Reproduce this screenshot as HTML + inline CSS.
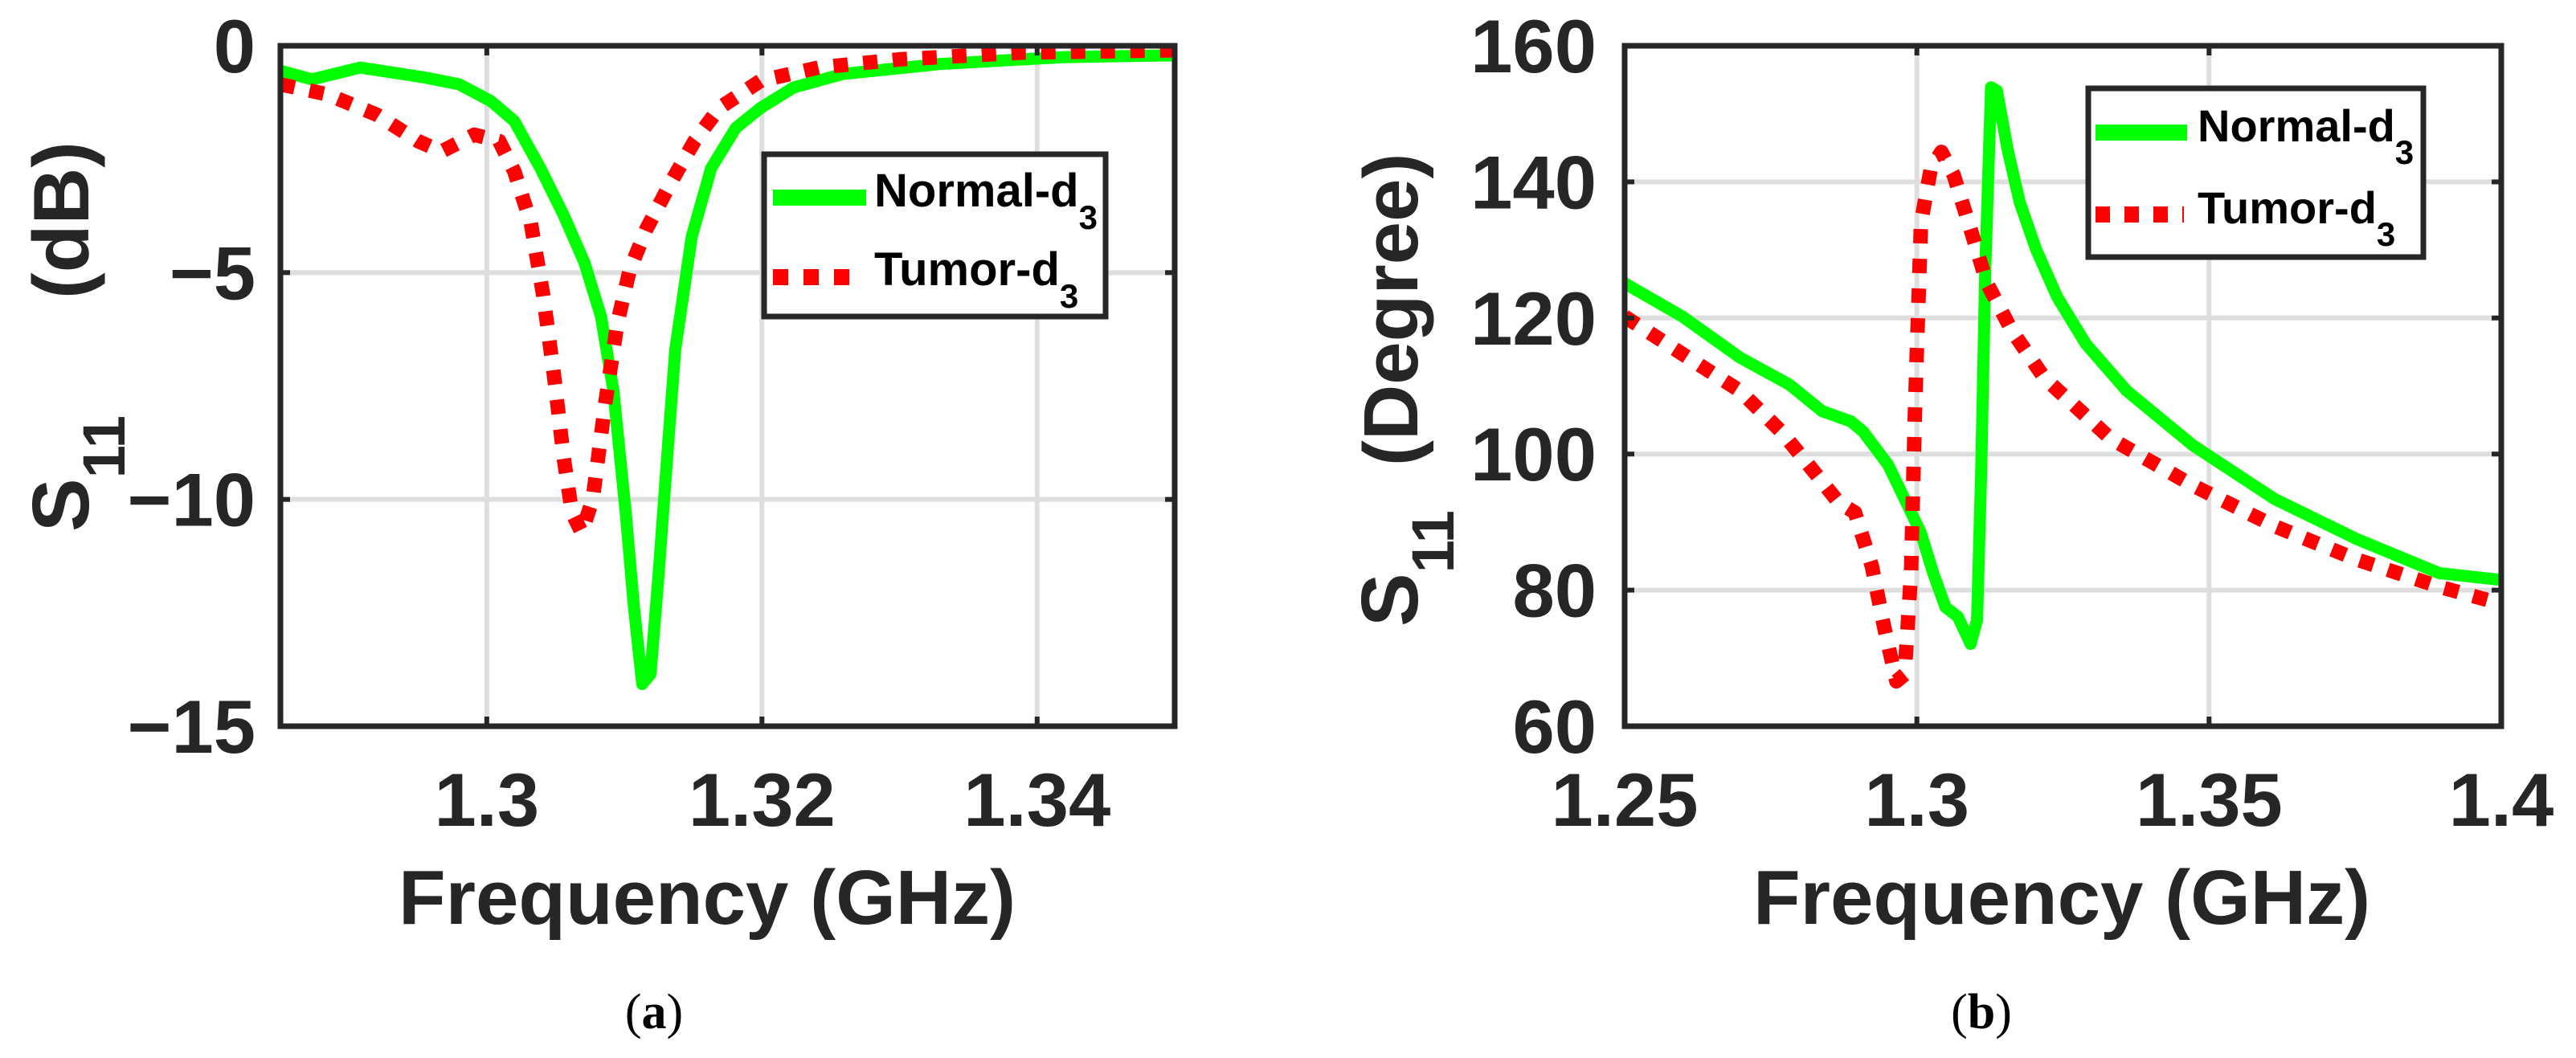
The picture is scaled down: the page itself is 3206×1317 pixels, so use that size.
<!DOCTYPE html>
<html><head><meta charset="utf-8"><style>
html,body{margin:0;padding:0;background:#fff;}
svg{display:block;font-family:"Liberation Sans",Arial,sans-serif;}
</style></head><body>
<svg id="fig" width="3206" height="1317" viewBox="0 0 3206 1317" xmlns="http://www.w3.org/2000/svg">
<defs>
<clipPath id="clipA"><rect x="349" y="57" width="1113" height="847"/></clipPath>
<clipPath id="clipB"><rect x="2022" y="57" width="1091" height="847"/></clipPath>
</defs>
<g id="panelA"></g>
<g id="panelB"></g>
</svg>
<script>
// Panel (a): S11 magnitude (dB)
const aXTicks = [1.3, 1.32, 1.34];
const aXTickLabels = ["1.3", "1.32", "1.34"];
const aYTicks = [0, -5, -10, -15];
const aYTickLabels = ["0", "\u22125", "\u221210", "\u221215"];
const aNormalX = [1.285,1.2873,1.2908,1.2955,1.298,1.3003,1.302,1.3039,1.3056,1.3071,1.3083,1.3092,1.3101,1.3107,1.3113,1.3119,1.3125,1.3131,1.3137,1.3149,1.3163,1.3181,1.3199,1.3223,1.3259,1.333,1.3419,1.35];
const aNormalY = [-0.55,-0.74,-0.48,-0.70,-0.85,-1.22,-1.66,-2.7,-3.74,-4.78,-5.97,-7.6,-10.3,-12.4,-14.07,-13.85,-11.6,-9.1,-6.7,-4.2,-2.7,-1.81,-1.37,-0.92,-0.62,-0.40,-0.25,-0.21];
const aTumorX = [1.285,1.2884,1.292,1.295,1.2967,1.2991,1.3009,1.302,1.3032,1.3041,1.3049,1.3056,1.3062,1.3069,1.3077,1.3086,1.3095,1.3104,1.3116,1.3134,1.3151,1.3169,1.3199,1.3241,1.33,1.3389,1.35];
const aTumorY = [-0.85,-1.07,-1.52,-2.1,-2.33,-1.96,-2.1,-2.77,-3.9,-5.5,-7.3,-9.1,-10.3,-10.73,-9.99,-7.9,-6.1,-4.93,-4.04,-3.0,-2.1,-1.37,-0.77,-0.48,-0.30,-0.15,-0.10];

// Panel (b): S11 phase (degree)
const bXTicks = [1.25, 1.3, 1.35, 1.4];
const bXTickLabels = ["1.25", "1.3", "1.35", "1.4"];
const bYTicks = [60, 80, 100, 120, 140, 160];
const bYTickLabels = ["60", "80", "100", "120", "140", "160"];
const bNormalX = [1.25,1.2599,1.2697,1.2782,1.2838,1.2887,1.2908,1.2951,1.2979,1.3007,1.3028,1.3049,1.307,1.3092,1.3103,1.311,1.3117,1.3127,1.3137,1.3155,1.3176,1.3204,1.324,1.3289,1.3359,1.3472,1.3612,1.3753,1.3894,1.4];
const bNormalY = [125.1,120.2,114.2,110.2,106.3,104.8,103.3,98.4,93.4,88.4,82.5,77.5,76.1,72.1,75.6,97.4,127.1,153.9,153.4,144.9,137.0,130.1,123.1,116.2,109.3,101.3,93.4,87.5,82.5,81.5];
const bTumorX = [1.25,1.2599,1.2697,1.2768,1.2824,1.2866,1.2894,1.2923,1.2944,1.2965,1.2979,1.299,1.2997,1.3007,1.3024,1.3042,1.3063,1.3092,1.312,1.3162,1.3218,1.3331,1.3472,1.3612,1.3753,1.3894,1.4];
const bTumorY = [120.2,114.7,109.3,103.3,97.4,92.9,91.4,83.5,74.6,66.6,67.6,82.5,107.3,134.0,142.0,144.4,141.0,133.0,125.1,118.2,111.2,102.3,95.4,89.4,84.5,80.5,78.0];

const NS = "http://www.w3.org/2000/svg";
function mk(tag, attrs, parent){ const e=document.createElementNS(NS,tag); for(const k in attrs) e.setAttribute(k,attrs[k]); parent.appendChild(e); return e; }

function panel(g, cfg){
  const sx = v => cfg.x0 + (v-cfg.xmin)/(cfg.xmax-cfg.xmin)*(cfg.x1-cfg.x0);
  const sy = v => cfg.y1 - (v-cfg.ymin)/(cfg.ymax-cfg.ymin)*(cfg.y1-cfg.y0);
  cfg.xt.forEach((t,i)=>{
    const l=mk('line',{x1:sx(t),x2:sx(t),y1:cfg.y0,y2:cfg.y1,stroke:'#dedede','stroke-width':6},g);
    
    
  });
  cfg.yt.forEach((t,i)=>{
    const l=mk('line',{x1:cfg.x0,x2:cfg.x1,y1:sy(t),y2:sy(t),stroke:'#dedede','stroke-width':6},g);
    
    
  });
  function series(xs, ys, stroke, w, dash, name){
    let d=''; xs.forEach((x,i)=>{ d+=(i?'L':'M')+sx(x).toFixed(1)+','+sy(ys[i]).toFixed(1); });
    const p=mk('path',{d:d,fill:'none',stroke:stroke,'stroke-width':w,'stroke-linejoin':'round','clip-path':'url(#'+cfg.clip+')'},g);
    if(dash) p.setAttribute('stroke-dasharray',dash);
    
    
  }
  series(cfg.nx, cfg.ny, '#00ff00', 15, null, 'normal-d3-line');
  series(cfg.tx, cfg.ty, '#ff0000', 18, '18 19', 'tumor-d3-line');
  const box=mk('rect',{x:cfg.x0,y:cfg.y0,width:cfg.x1-cfg.x0,height:cfg.y1-cfg.y0,fill:'none',stroke:'#262626','stroke-width':7},g);
  
  
  cfg.xt.forEach((t,i)=>{
    mk('line',{x1:sx(t),x2:sx(t),y1:cfg.y1,y2:cfg.y1-12,stroke:'#262626','stroke-width':6},g);
    mk('line',{x1:sx(t),x2:sx(t),y1:cfg.y0,y2:cfg.y0+12,stroke:'#262626','stroke-width':6},g);
    const tx=mk('text',{x:sx(t),y:1028,'text-anchor':'middle','font-size':94,'font-weight':'bold',fill:'#262626'},g);
    tx.textContent=cfg.xl[i];
    
    
  });
  cfg.yt.forEach((t,i)=>{
    mk('line',{x1:cfg.x0,x2:cfg.x0+12,y1:sy(t),y2:sy(t),stroke:'#262626','stroke-width':6},g);
    mk('line',{x1:cfg.x1,x2:cfg.x1-12,y1:sy(t),y2:sy(t),stroke:'#262626','stroke-width':6},g);
    const ty=mk('text',{x:cfg.ylx,y:sy(t)+33,'text-anchor':'end','font-size':94,'font-weight':'bold',fill:'#262626'},g);
    ty.textContent=cfg.yl[i];
    
    
  });
}

const gA=document.getElementById('panelA'), gB=document.getElementById('panelB');
panel(gA,{x0:349,x1:1462,y0:57,y1:904,xmin:1.285,xmax:1.35,ymin:-15,ymax:0,xt:aXTicks,xl:aXTickLabels,yt:aYTicks,yl:aYTickLabels,ylx:318,nx:aNormalX,ny:aNormalY,tx:aTumorX,ty:aTumorY,clip:'clipA'});
panel(gB,{x0:2022,x1:3113,y0:57,y1:904,xmin:1.25,xmax:1.4,ymin:60,ymax:160,xt:bXTicks,xl:bXTickLabels,yt:bYTicks,yl:bYTickLabels,ylx:1987,nx:bNormalX,ny:bNormalY,tx:bTumorX,ty:bTumorY,clip:'clipB'});
</script>

<svg style="position:absolute;left:0;top:0" width="3206" height="1317" viewBox="0 0 3206 1317">
<g font-family="Liberation Sans, Arial, sans-serif" font-weight="bold" fill="#262626">
<text x="880" y="1150" text-anchor="middle" font-size="96">Frequency (GHz)</text>
<text transform="translate(110,662) rotate(-90)" text-anchor="start" font-size="100">S<tspan font-size="74" dy="45">11</tspan></text>
<text transform="translate(110,372) rotate(-90)" text-anchor="start" font-size="98">(dB)</text>
<text x="2566" y="1150" text-anchor="middle" font-size="96">Frequency (GHz)</text>
<text transform="translate(1764,780) rotate(-90)" text-anchor="start" font-size="100">S<tspan font-size="74" dy="45">11</tspan></text>
<text transform="translate(1764,580) rotate(-90)" text-anchor="start" font-size="96">(Degree)</text>
</g>
<g>
<rect x="951" y="192" width="425" height="202" fill="#fff" stroke="#262626" stroke-width="7"/>
<line x1="962" x2="1078" y1="246" y2="246" stroke="#00ff00" stroke-width="20"/>
<line x1="962" x2="1070" y1="345" y2="345" stroke="#ff0000" stroke-width="20" stroke-dasharray="19 19"/>
<text x="1088" y="257" font-family="Liberation Sans, Arial, sans-serif" font-weight="bold" font-size="58" fill="#000">Normal-d<tspan font-size="42" dy="28">3</tspan></text>
<text x="1088" y="355" font-family="Liberation Sans, Arial, sans-serif" font-weight="bold" font-size="58" fill="#000">Tumor-d<tspan font-size="42" dy="28">3</tspan></text>
</g>
<g>
<rect x="2599" y="110" width="417" height="210" fill="#fff" stroke="#262626" stroke-width="7"/>
<line x1="2608" x2="2722" y1="165" y2="165" stroke="#00ff00" stroke-width="20"/>
<line x1="2608" x2="2718" y1="267" y2="267" stroke="#ff0000" stroke-width="20" stroke-dasharray="18 18"/>
<text x="2735" y="176" font-family="Liberation Sans, Arial, sans-serif" font-weight="bold" font-size="56" fill="#000">Normal-d<tspan font-size="42" dy="28">3</tspan></text>
<text x="2735" y="278" font-family="Liberation Sans, Arial, sans-serif" font-weight="bold" font-size="56" fill="#000">Tumor-d<tspan font-size="42" dy="28">3</tspan></text>
</g>
<text x="814" y="1280" text-anchor="middle" font-family="Liberation Serif, serif" font-size="62" fill="#000">(<tspan font-weight="bold">a</tspan>)</text>
<text x="2466" y="1280" text-anchor="middle" font-family="Liberation Serif, serif" font-size="62" fill="#000">(<tspan font-weight="bold">b</tspan>)</text>
</svg>
</body></html>
